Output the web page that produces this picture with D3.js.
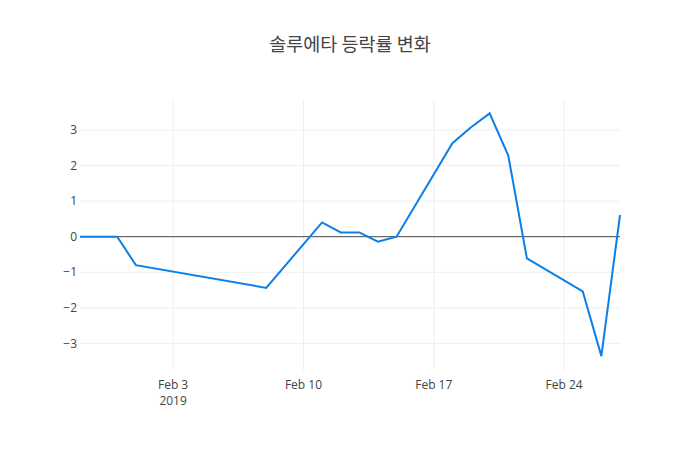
<!DOCTYPE html>
<html><head><meta charset="utf-8">
<script src="https://cdn.jsdelivr.net/npm/d3@7"></script>
<style>body{margin:0;background:#fff}</style>
</head><body>
<svg id="c" width="700" height="450"></svg>
<script>
const title = "솔루에타 등락률 변화";
const dates = ["2019-01-29","2019-01-30","2019-01-31","2019-02-01","2019-02-08","2019-02-11","2019-02-12","2019-02-13","2019-02-14","2019-02-15","2019-02-18","2019-02-19","2019-02-20","2019-02-21","2019-02-22","2019-02-25","2019-02-26","2019-02-27"];
const values = [0, 0, 0, -0.80, -1.44, 0.40, 0.12, 0.12, -0.14, 0.0, 2.63, 3.08, 3.47, 2.28, -0.61, -1.54, -3.36, 0.61];
const xTicks = ["2019-02-03","2019-02-10","2019-02-17","2019-02-24"];
const yTicks = [-3, -2, -1, 0, 1, 2, 3];

const parse = d3.utcParse("%Y-%m-%d");
const data = dates.map((d,i)=>({x:parse(d), y:values[i]}));
const svg = d3.select("#c");
const m = {l:80, r:80, t:100, b:80}, W = 700, H = 450;
const x = d3.scaleUtc().domain(d3.extent(data, d=>d.x)).range([m.l, W-m.r]);
const y = d3.scaleLinear().domain([-3.75, 3.845]).range([H-m.b, m.t]);
const font = "'Open Sans', 'Noto Sans', sans-serif";

svg.append("text").attr("x", 350).attr("y", 51).attr("text-anchor","middle")
  .attr("font-family", "'Noto Sans CJK KR', sans-serif").attr("font-size", 18.5).attr("fill","#444").text(title);

const g = svg.append("g");
// grid
g.selectAll(".vg").data(xTicks.map(parse)).join("line")
  .attr("x1", d=>x(d)).attr("x2", d=>x(d)).attr("y1", m.t).attr("y2", H-m.b)
  .attr("stroke", "#eee").attr("stroke-width", 1);
g.selectAll(".hg").data(yTicks.filter(v=>v!==0)).join("line")
  .attr("x1", m.l).attr("x2", W-m.r).attr("y1", d=>y(d)).attr("y2", d=>y(d))
  .attr("stroke", "#eee").attr("stroke-width", 1);
// zero line
g.append("line").attr("x1", m.l).attr("x2", W-m.r).attr("y1", y(0)).attr("y2", y(0))
  .attr("stroke", "#444").attr("stroke-width", 1);

// y labels
g.selectAll(".yl").data(yTicks).join("text")
  .attr("x", m.l-3).attr("y", d=>y(d)).attr("dy", "0.35em").attr("text-anchor","end")
  .attr("font-family", font).attr("font-size", 12).attr("fill", "#444")
  .text(d=> d<0 ? "\u2212"+Math.abs(d) : String(d));

// x labels
const fmt = d3.utcFormat("%b %-d");
const xl = g.selectAll(".xl").data(xTicks.map(parse)).join("text")
  .attr("x", d=>x(d)).attr("y", H-m.b+19).attr("text-anchor","middle")
  .attr("font-family", font).attr("font-size", 12).attr("fill", "#444");
xl.append("tspan").attr("x", d=>x(d)).text(d=>fmt(d));
xl.filter((d,i)=>i===0).append("tspan").attr("x", d=>x(d)).attr("dy", 15.6).text(d=>d3.utcFormat("%Y")(d));

// line
const line = d3.line().x(d=>x(d.x)).y(d=>y(d.y));
svg.append("path").datum(data).attr("d", line).attr("fill","none")
  .attr("stroke", "#0d7ee8").attr("stroke-width", 2).attr("stroke-linejoin","miter");
</script>
</body></html>
